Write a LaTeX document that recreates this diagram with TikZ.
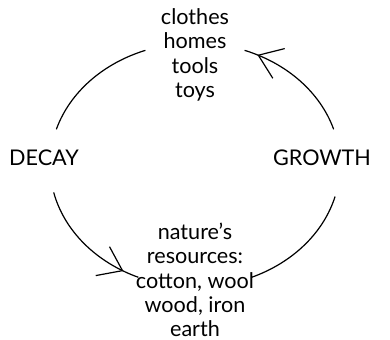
\documentclass[tikz,border=0pt]{standalone}
\usepackage{fontspec}
\setmainfont{Lato}
\usetikzlibrary{arrows.meta,decorations.markings}

\begin{document}
\begin{tikzpicture}[x=0.5pt,y=0.5pt,
    cycle/.style={line width=0.6pt},
    tip/.style={postaction={decorate},decoration={markings,
      mark=at position #1 with {\arrow{Straight Barb[length=11pt,width=16pt,line width=0.6pt]}}}},
    word/.style={font=\fontsize{10.8}{12.2}\selectfont,align=center,inner sep=0pt}]
    \useasboundingbox (0,0) rectangle (390,340);
    \coordinate (c) at (195,175);
    \node[word] (products) at (195,285) {clothes\\homes\\tools\\toys};
    \node[word] (resources) at (195,60) {nature's\\resources:\\cotton, wool\\wood, iron\\earth};
    \node[word] (decay) at (44,182) {DECAY};
    \node[word] (growth) at (322,182) {GROWTH};
    \path (c) +(17:145 and 122) coordinate (growth-n)
          (c) +(70:145 and 122) coordinate (products-e)
          (c) +(110:145 and 122) coordinate (products-w)
          (c) +(163:145 and 122) coordinate (decay-n)
          (c) +(193:145 and 122) coordinate (decay-s)
          (c) +(247:145 and 122) coordinate (resources-w)
          (c) +(293:145 and 122) coordinate (resources-e)
          (c) +(345:145 and 122) coordinate (growth-s);
    \draw[cycle,tip=0.89] (growth-n) arc[start angle=17,end angle=70,x radius=145,y radius=122];
    \draw[cycle] (products-w) arc[start angle=110,end angle=163,x radius=145,y radius=122];
    \draw[cycle,tip=0.87] (decay-s) arc[start angle=193,end angle=247,x radius=145,y radius=122];
    \draw[cycle] (resources-e) arc[start angle=293,end angle=345,x radius=145,y radius=122];
\end{tikzpicture}
\end{document}
